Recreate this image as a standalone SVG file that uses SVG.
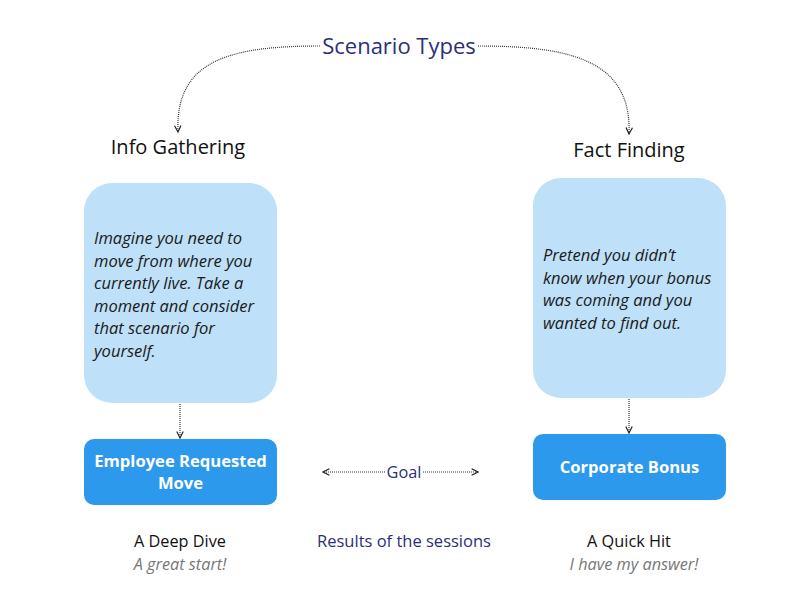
<svg xmlns="http://www.w3.org/2000/svg" width="800" height="600" viewBox="0 0 800 600">
<style>
text{font-family:"Open Sans","Noto Sans",sans-serif}
.light{fill:#bee0f8}
.dark{fill:#2d99ec}
.head{font-size:20px;fill:#111;text-anchor:middle}
.body{font-size:16.5px;font-style:italic;fill:#1a1a1a}
.btn{font-size:16.6px;font-weight:bold;fill:#fff;text-anchor:middle}
.navy{fill:#2b2f78}
.sub{font-size:16.3px;fill:#111;text-anchor:middle}
.subi{font-size:16.3px;font-style:italic;fill:#777;text-anchor:middle}
.conn{fill:none;stroke:#333;stroke-width:1.2;stroke-dasharray:1 1}
</style>
<defs>
<marker id="arr" viewBox="0 0 10 10" refX="9" refY="5" markerWidth="8" markerHeight="8" markerUnits="userSpaceOnUse" orient="auto">
<path d="M1,1 L9,5 L1,9" fill="none" stroke="#222" stroke-width="1.5"/>
</marker>
</defs>
<g id="connectors">
<path class="conn" d="M320,46 C230,46 175,60 178,132" marker-end="url(#arr)"/>
<path class="conn" d="M478,46 C570,46 632,60 629,134" marker-end="url(#arr)"/>
<path class="conn" d="M180,404 L180,438" marker-end="url(#arr)"/>
<path class="conn" d="M629,399 L629,433" marker-end="url(#arr)"/>
<path class="conn" d="M385,472 L323,472" marker-end="url(#arr)"/>
<path class="conn" d="M423,472 L478,472" marker-end="url(#arr)"/>
</g>
<g id="title"><text x="399" y="54" font-size="22" text-anchor="middle" class="navy">Scenario Types</text></g>
<g id="info-gathering"><text x="178" y="154" class="head">Info Gathering</text></g>
<g id="fact-finding"><text x="629" y="157" class="head">Fact Finding</text></g>
<g id="scenario-left">
<rect class="light" x="84" y="183" width="193" height="220" rx="28"/>
<text class="body" x="94" y="244">Imagine you need to</text>
<text class="body" x="94" y="266.5">move from where you</text>
<text class="body" x="94" y="289">currently live. Take a</text>
<text class="body" x="94" y="311.5">moment and consider</text>
<text class="body" x="94" y="334">that scenario for</text>
<text class="body" x="94" y="356.5">yourself.</text>
</g>
<g id="scenario-right">
<rect class="light" x="533" y="178" width="193" height="220" rx="28"/>
<text class="body" x="543" y="261">Pretend you didn’t</text>
<text class="body" x="543" y="283.5">know when your bonus</text>
<text class="body" x="543" y="306">was coming and you</text>
<text class="body" x="543" y="328.5">wanted to find out.</text>
</g>
<g id="employee-requested-move">
<rect class="dark" x="84" y="439" width="193" height="66" rx="10"/>
<text class="btn" x="180.5" y="467">Employee Requested</text>
<text class="btn" x="180.5" y="489">Move</text>
</g>
<g id="corporate-bonus">
<rect class="dark" x="533" y="434" width="193" height="66" rx="10"/>
<text class="btn" x="629.5" y="473">Corporate Bonus</text>
</g>
<g id="goal"><text x="404" y="478" font-size="16.3" text-anchor="middle" class="navy">Goal</text></g>
<g id="deep-dive">
<text class="sub" x="180" y="547">A Deep Dive</text>
<text class="subi" x="180" y="570">A great start!</text>
</g>
<g id="results"><text x="404" y="547" font-size="16.5" text-anchor="middle" class="navy">Results of the sessions</text></g>
<g id="quick-hit">
<text class="sub" x="629" y="547">A Quick Hit</text>
<text class="subi" x="634" y="570">I have my answer!</text>
</g>
</svg>
